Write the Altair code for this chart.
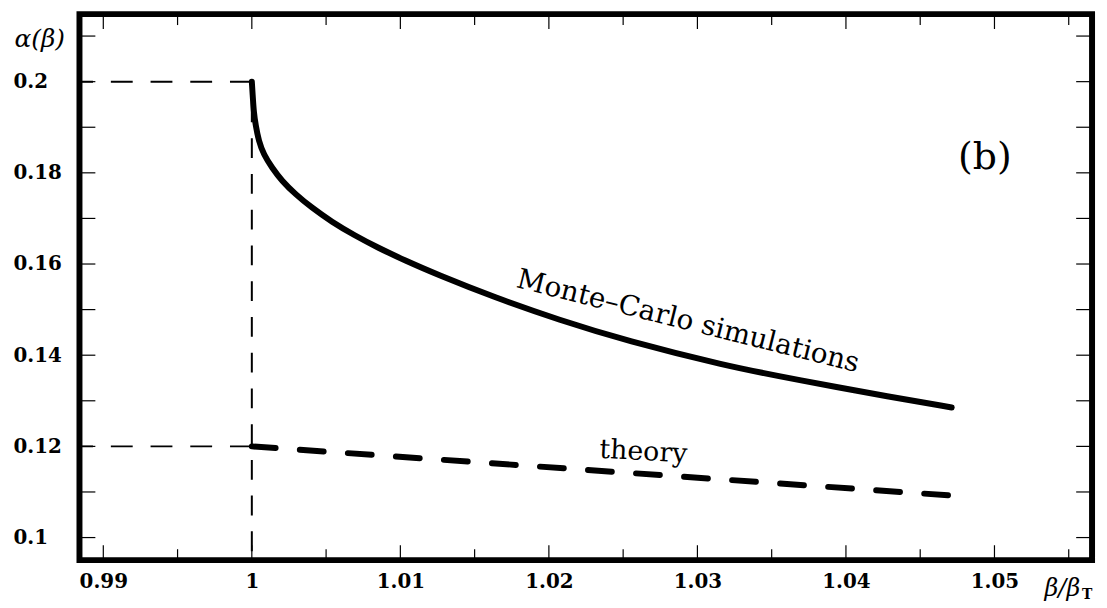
import altair as alt
import pandas as pd

# ---- data ----
mc_beta = [1.0, 1.00007, 1.00013, 1.00025, 1.00047, 1.0008, 1.00136, 1.00203,
           1.00292, 1.00403, 1.00537, 1.00693, 1.00849, 1.01027, 1.0125,
           1.01631, 1.02072, 1.0252, 1.03188, 1.03656, 1.04324, 1.04712]
mc_alpha = [0.2, 0.19637, 0.19346, 0.19056, 0.18693, 0.18403, 0.18112, 0.17821,
            0.17536, 0.17236, 0.16928, 0.16624, 0.16359, 0.16083, 0.15766,
            0.15271, 0.14770, 0.14320, 0.13770, 0.13470, 0.13070, 0.12854]

th_beta = [1.0, 1.04707]
th_alpha = [0.12, 0.10922]

x_major = [0.99, 1.0, 1.01, 1.02, 1.03, 1.04, 1.05]
x_minor = [0.995, 1.005, 1.015, 1.025, 1.035, 1.045, 1.055]
y_labels = [0.1, 0.12, 0.14, 0.16, 0.18, 0.2]
y_ticks = [0.1, 0.11, 0.12, 0.13, 0.14, 0.15, 0.16, 0.17, 0.18, 0.19, 0.2, 0.21]

x_dom = [0.988396, 1.05657]
y_dom = [0.09505, 0.21481]

ref_h_alpha = [0.2, 0.12]
ref_v_beta = [1.0]

W, H = 1020, 550

xs = alt.Scale(domain=x_dom, nice=False, zero=False)
ys = alt.Scale(domain=y_dom, nice=False, zero=False)

mc_df = pd.DataFrame({"b": mc_beta, "a": mc_alpha})
th_df = pd.DataFrame({"b": th_beta, "a": th_alpha})

base_axes = alt.Chart(pd.DataFrame({"b": [x_dom[0]], "a": [y_dom[0]]})).mark_point(opacity=0).encode(
    x=alt.X("b:Q", scale=xs, title=None,
            axis=alt.Axis(values=x_major, format="~g", labelFont="DejaVu Serif",
                          labelFontWeight="bold", labelFontSize=20, labelColor="black",
                          ticks=False, tickSize=0, domain=False, grid=False,
                          labelPadding=22, labelBaseline="middle", labelFlush=False,
                          labelOverlap=False, labelBound=False)),
    y=alt.Y("a:Q", scale=ys, title=None,
            axis=alt.Axis(values=y_labels, format="~g", labelFont="DejaVu Serif",
                          labelFontWeight="bold", labelFontSize=20, labelColor="black",
                          ticks=False, tickSize=0, domain=False, grid=False,
                          labelAlign="left", labelPadding=67, labelBaseline="middle",
                          labelFlush=False, labelOverlap=False, labelBound=False)),
)

xmaj_df = pd.DataFrame({"b": x_major})
xmin_df = pd.DataFrame({"b": x_minor})
yt_df = pd.DataFrame({"a": y_ticks})

tick_style = dict(color="black", strokeWidth=1.2)
ticks = [
    alt.Chart(xmaj_df).mark_rule(**tick_style).encode(x=alt.X("b:Q", scale=xs), y=alt.value(H), y2=alt.value(H - 15)),
    alt.Chart(xmaj_df).mark_rule(**tick_style).encode(x=alt.X("b:Q", scale=xs), y=alt.value(0), y2=alt.value(15)),
    alt.Chart(xmin_df).mark_rule(**tick_style).encode(x=alt.X("b:Q", scale=xs), y=alt.value(H), y2=alt.value(H - 11)),
    alt.Chart(xmin_df).mark_rule(**tick_style).encode(x=alt.X("b:Q", scale=xs), y=alt.value(0), y2=alt.value(11)),
    alt.Chart(yt_df).mark_rule(**tick_style).encode(y=alt.Y("a:Q", scale=ys), x=alt.value(0), x2=alt.value(16)),
    alt.Chart(yt_df).mark_rule(**tick_style).encode(y=alt.Y("a:Q", scale=ys), x=alt.value(W), x2=alt.value(W - 16)),
]

# thin dashed reference lines
h_df = pd.DataFrame({"a": ref_h_alpha, "b1": [1.0] * len(ref_h_alpha), "b2": [x_dom[0]] * len(ref_h_alpha)})
h_rules = alt.Chart(h_df).mark_rule(color="black", strokeWidth=2, strokeDash=[22, 18]).encode(
    y=alt.Y("a:Q", scale=ys), x=alt.X("b1:Q", scale=xs), x2="b2:Q")
v_df = pd.DataFrame({"b": ref_v_beta, "a1": [0.2], "a2": [y_dom[0]]})
v_rule = alt.Chart(v_df).mark_rule(color="black", strokeWidth=2, strokeDash=[20, 16], strokeDashOffset=15).encode(
    x=alt.X("b:Q", scale=xs), y=alt.Y("a1:Q", scale=ys), y2="a2:Q")

theory = alt.Chart(th_df).mark_line(color="black", strokeWidth=6, strokeDash=[24, 24.5], strokeCap="round").encode(
    x=alt.X("b:Q", scale=xs), y=alt.Y("a:Q", scale=ys))
mc = alt.Chart(mc_df).mark_line(color="black", strokeWidth=6, strokeCap="round", strokeJoin="round",
                                interpolate="basis").encode(
    x=alt.X("b:Q", scale=xs), y=alt.Y("a:Q", scale=ys))

# text annotations
def txt(text, b, a, size, angle=0, style="normal", weight="normal", align="center",
        font="DejaVu Serif"):
    df = pd.DataFrame({"b": [b], "a": [a], "t": [text]})
    return alt.Chart(df).mark_text(font=font, fontSize=size, angle=angle, fontStyle=style,
                                   fontWeight=weight, color="black", align=align,
                                   baseline="middle").encode(
        x=alt.X("b:Q", scale=xs), y=alt.Y("a:Q", scale=ys), text="t:N")

labels = [
    txt("(b)", 1.04935, 0.18322, 38),
    txt("Monte–Carlo simulations", 1.02936, 0.14730, 28, angle=14),
    txt("theory", 1.02636, 0.11874, 27, angle=3),
    txt("α(β)", 0.98572, 0.20937, 25, style="italic"),
    txt("β/β", 1.05577, 0.08880, 24, style="italic", align="right"),
    txt("T", 1.05590, 0.08737, 14, weight="bold", align="left"),
]

chart = alt.layer(base_axes, *ticks, h_rules, v_rule, theory, mc, *labels).properties(
    width=W, height=H,
    padding={"left": 72, "top": 4, "right": 7, "bottom": 40},
    autosize=alt.AutoSizeParams(type="none"),
).configure(background="white").configure_view(stroke="black", strokeWidth=6)

chart.save("out.html", embed_options={"renderer": "svg", "actions": False})
